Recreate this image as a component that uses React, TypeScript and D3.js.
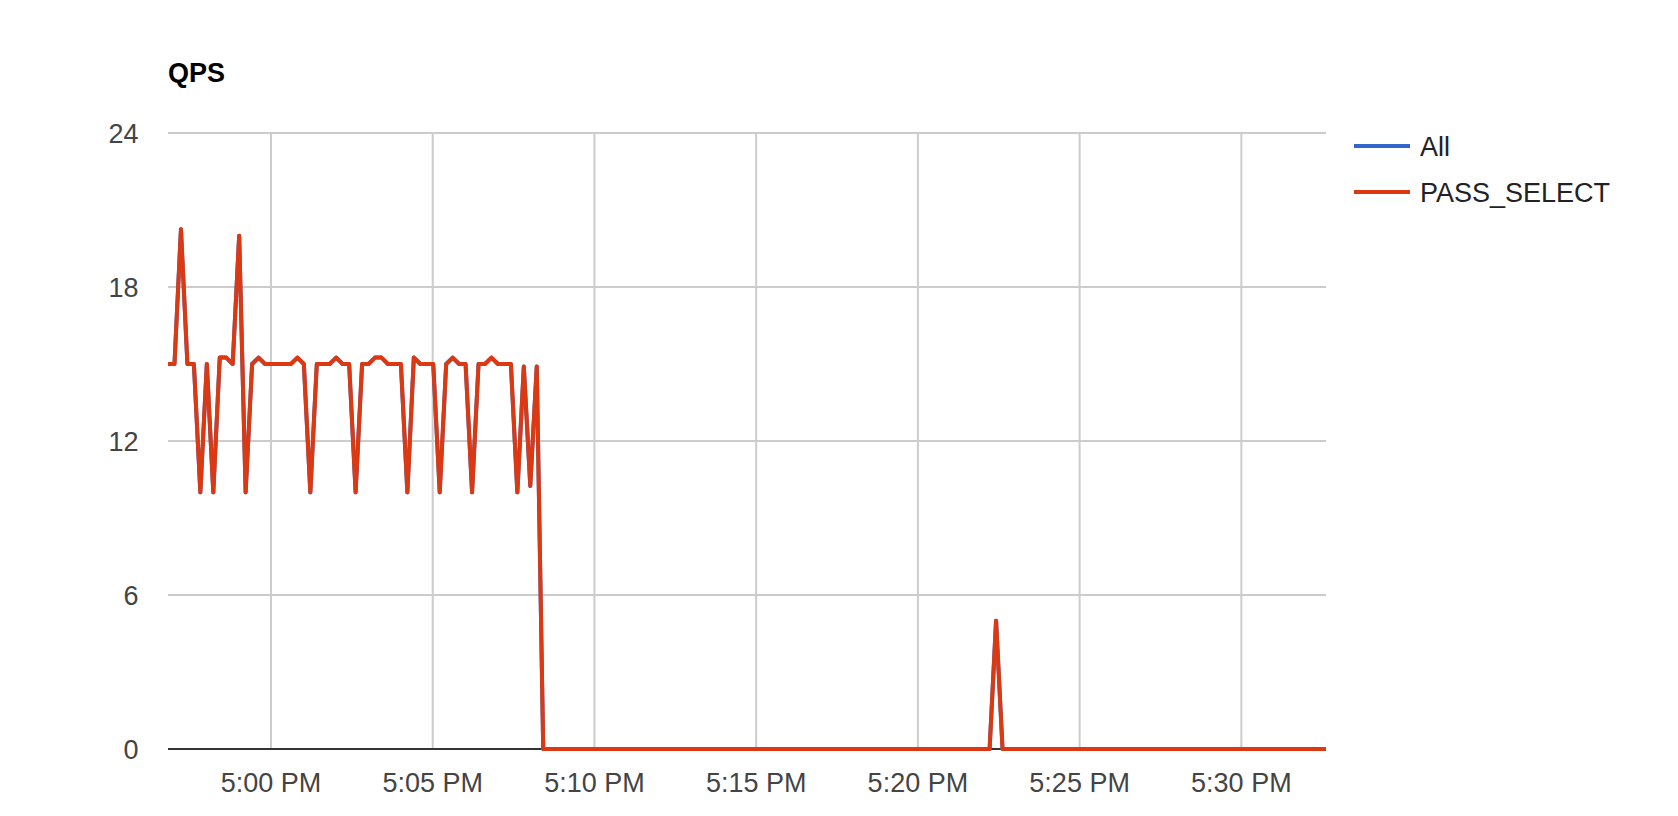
import { line as d3Line, scaleLinear, scaleTime, timeFormat, timeMinute } from "d3";
import { useMemo } from "react";

// 12-second samples starting at 4:56:49 PM
const sampleStart = new Date(2024, 0, 1, 16, 56, 49);
const sampleStepSeconds = 12;

const passSelectQps = [
  15, 15, 20.25, 15, 15, 10, 15, 10, 15.25, 15.25,
  15, 20, 10, 15, 15.25, 15, 15, 15, 15, 15,
  15.25, 15, 10, 15, 15, 15, 15.25, 15, 15, 10,
  15, 15, 15.25, 15.25, 15, 15, 15, 10, 15.25, 15,
  15, 15, 10, 15, 15.25, 15, 15, 10, 15, 15,
  15.25, 15, 15, 15, 10, 14.9, 10.25, 14.9, 0, 0,
  0, 0, 0, 0, 0, 0, 0, 0, 0, 0,
  0, 0, 0, 0, 0, 0, 0, 0, 0, 0,
  0, 0, 0, 0, 0, 0, 0, 0, 0, 0,
  0, 0, 0, 0, 0, 0, 0, 0, 0, 0,
  0, 0, 0, 0, 0, 0, 0, 0, 0, 0,
  0, 0, 0, 0, 0, 0, 0, 0, 0, 0,
  0, 0, 0, 0, 0, 0, 0, 0, 5, 0,
  0, 0, 0, 0, 0, 0, 0, 0, 0, 0,
  0, 0, 0, 0, 0, 0, 0, 0, 0, 0,
  0, 0, 0, 0, 0, 0, 0, 0, 0, 0,
  0, 0, 0, 0, 0, 0, 0, 0, 0, 0,
  0, 0, 0, 0, 0, 0, 0, 0, 0, 0
];
// "All" carries the same numbers and sits under PASS_SELECT
const allQps = passSelectQps;

const yTicks = [0, 6, 12, 18, 24];
const seriesNames = ["All", "PASS_SELECT"];
const seriesColors = ["#3366cc", "#dc3912"];

const width = 1678;
const height = 816;
const chart = { left: 168, right: 1326, top: 133, bottom: 749 };
const font = "Arial, 'Liberation Sans', sans-serif";
const fontSize = 27;

type Point = { t: Date; v: number };

const toPoints = (values: number[]): Point[] =>
  values.map((v, i) => ({ t: new Date(sampleStart.getTime() + i * sampleStepSeconds * 1000), v }));

export default function App() {
  const series = useMemo(() => [toPoints(allQps), toPoints(passSelectQps)], []);

  const x = useMemo(() => {
    const pts = series[0];
    return scaleTime().domain([pts[0].t, pts[pts.length - 1].t]).range([chart.left, chart.right]);
  }, [series]);
  const y = useMemo(() => scaleLinear().domain([0, 24]).range([chart.bottom, chart.top]), []);

  const path = d3Line<Point>()
    .x((d) => x(d.t))
    .y((d) => y(d.v));

  const xTicks = x.ticks(timeMinute.every(5)!);
  const fmt = timeFormat("%-I:%M %p");

  return (
    <svg
      width={width}
      height={height}
      style={{ position: "absolute", left: 0, top: 0, background: "#fff" }}
      fontFamily={font}
    >
      <text x={chart.left} y={81.7} fontSize={fontSize} fontWeight="bold" fill="#000">
        QPS
      </text>

      {yTicks.filter((t) => t !== 0).map((t) => (
        <line key={`gy${t}`} x1={chart.left} x2={chart.right} y1={y(t)} y2={y(t)} stroke="#cccccc" strokeWidth={2} />
      ))}
      {xTicks.map((t) => (
        <line key={`gx${+t}`} x1={x(t)} x2={x(t)} y1={chart.top} y2={chart.bottom} stroke="#cccccc" strokeWidth={2} />
      ))}
      <line x1={chart.left} x2={chart.right} y1={y(0)} y2={y(0)} stroke="#333333" strokeWidth={2} />

      {yTicks.map((t) => (
        <text key={`ly${t}`} x={138.5} y={y(t)} dy="0.36em" textAnchor="end" fontSize={fontSize} fill="#444444">
          {t}
        </text>
      ))}
      {xTicks.map((t) => (
        <text key={`lx${+t}`} x={x(t)} y={792} textAnchor="middle" fontSize={fontSize} fill="#444444">
          {fmt(t)}
        </text>
      ))}

      {series.map((pts, i) => (
        <path
          key={seriesNames[i]}
          d={path(pts) ?? undefined}
          fill="none"
          stroke={seriesColors[i]}
          strokeWidth={4}
          strokeLinejoin="round"
        />
      ))}

      {seriesNames.map((name, i) => (
        <g key={name} transform={`translate(1354, ${146 + i * 46})`}>
          <line x1={0} x2={56} y1={0} y2={0} stroke={seriesColors[i]} strokeWidth={4} />
          <text x={66} y={0} dy="0.36em" fontSize={fontSize} fill="#222222">
            {name}
          </text>
        </g>
      ))}
    </svg>
  );
}
